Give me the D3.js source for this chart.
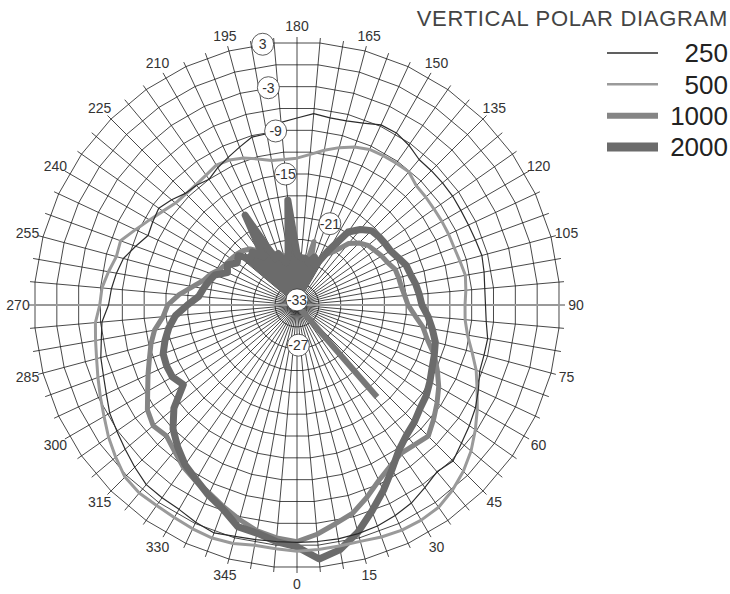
<!DOCTYPE html>
<html>
<head>
<meta charset="utf-8">
<title>Vertical polar diagram</title>
<script src="https://cdn.jsdelivr.net/npm/d3@7"></script>
<style>
  body { margin: 0; background: #fff; }
  svg text { font-family: "Liberation Sans", Arial, sans-serif; fill: #333; }
</style>
</head>
<body>
<div id="chart"></div>
<script>
// angles in degrees, 0 at the bottom, 90 to the right, 180 at the top
var angles = d3.range(0, 360, 5);

// levels in dB, one value per angle
var db250 = [-0.5,-0.5,-0.5,-0.6,-0.8,-1.2,-1.7,-2.5,-3.2,-2.8,-3.6,-4.2,-4.8,-5.6,-6.4,-6.5,-6.5,-7.0,
             -7.2,-7.2,-7.0,-6.8,-7.0,-7.1,-7.1,-7.0,-7.0,-7.0,-7.0,-6.3,-5.8,-5.8,-6.5,-6.9,-7.0,-6.7,
             -7.4,-7.9,-9.2,-9.2,-10.0,-10.7,-11.3,-12.0,-11.6,-11.4,-10.6,-9.9,-10.2,-10.5,-9.5,-8.4,-7.9,-7.5,
             -7.2,-6.2,-5.8,-5.2,-4.8,-4.2,-3.4,-2.9,-2.3,-1.6,-0.9,-0.8,-0.7,-0.2,0.2,-0.2,-0.4,-0.5];
var db500 = [0.7,0.6,0.5,0.5,0.8,1.0,1.0,0.8,0.1,-0.8,-1.9,-3.2,-4.5,-5.8,-6.9,-8.2,-9.3,-9.9,
             -10.0,-9.8,-9.6,-9.9,-10.1,-10.1,-10.1,-10.1,-10.0,-9.9,-9.2,-9.3,-9.4,-9.5,-10.0,-10.7,-11.5,-12.3,
             -12.9,-13.0,-12.9,-12.3,-11.6,-11.1,-10.9,-11.3,-11.5,-11.5,-11.3,-10.6,-9.7,-8.6,-7.3,-7.4,-6.8,-6.2,
             -6.0,-5.3,-5.0,-4.6,-4.0,-3.3,-2.5,-1.5,-0.6,0.3,0.6,0.5,0.6,0.8,0.95,0.8,0.4,0.5];
var db1000 = [-0.6,-1.5,-2.6,-3.5,-5.0,-6.5,-7.5,-8.2,-8.0,-7.6,-8.6,-9.6,-10.6,-11.8,-13.0,-14.5,-15.5,-16.8,
              -17.8,-18.2,-18.5,-18.6,-18.7,-19.3,-19.6,-20.0,-20.3,-21.0,-22.0,-24.0,-25.0,-27.0,-28.0,-24.0,-29.0,-28.0,
              -28.0,-27.0,-27.0,-26.0,-26.0,-25.0,-21.0,-24.0,-23.0,-22.5,-22.2,-22.0,-21.8,-21.4,-20.5,-19.8,-18.5,-16.8,
              -15.3,-14.6,-13.2,-12.3,-11.5,-10.5,-9.4,-8.0,-7.3,-7.7,-6.9,-5.9,-5.2,-4.6,-3.6,-2.6,-1.6,-1.0];
var db2000 = [0.1,1.9,1.0,-0.8,-3.0,-5.0,-7.0,-8.7,-9.7,-10.3,-11.0,-11.4,-12.0,-12.6,-13.0,-13.4,-14.2,-15.0,
              -15.9,-16.2,-16.5,-16.9,-17.1,-17.7,-18.2,-18.3,-18.4,-18.6,-19.5,-20.8,-24.4,-27.0,-26.0,-27.0,-26.5,-26.5,
              -26.0,-18.6,-26.0,-27.0,-25.5,-26.0,-18.8,-25.0,-23.5,-24.0,-22.5,-23.0,-22.0,-22.5,-21.0,-20.5,-20.0,-19.5,
              -18.0,-16.3,-15.2,-14.3,-13.5,-13.3,-13.3,-14.0,-11.0,-9.0,-7.6,-6.3,-5.4,-4.3,-3.3,-1.6,-1.3,-0.5];
// narrow spike of the 2000 trace, [angle, dB]
var spike2000 = [[0, -33], [41, -16.3]];
// angular range where the 2000 trace is solid down to the centre
var blob2000 = [150, 230];

var seriesNames = ['250', '500', '1000', '2000'];
var seriesColors = ['#2b2b2b', '#9a9a9a', '#858585', '#6b6b6b'];
var seriesWidths = [1.2, 3, 5, 7];
var legendWidths = [1.5, 2.5, 6, 9];

var angleTicks = d3.range(0, 360, 15);
var ringLevels = d3.range(-33, 4, 3);
var ringLabels = [3, -3, -9, -15, -21, -27, -33];
var ringLabelAngles = [187.5, 187.5, 187, 185, 158, 2, 180];
var ringLabelShift = [0, 0, 0, 0, 0, -0.5, 0.7];

var w = 730, h = 594, cx = 297, cy = 305, R = 263;

var r = d3.scaleLinear().domain([-33, 3]).range([0, R]);
// d3 radial angle: 0 at top, clockwise
var a = d3.scaleLinear().domain([0, 360]).range([Math.PI, -Math.PI]);

var svg = d3.select('#chart').append('svg')
  .attr('width', w).attr('height', h);

var g = svg.append('g').attr('transform', 'translate(' + cx + ',' + cy + ')');

function xy(deg, rad) {
  var t = a(deg);
  return [rad * Math.sin(t), -rad * Math.cos(t)];
}

// rings
var ringAngles = d3.range(5, 360, 10);
var ringLine = d3.lineRadial().curve(d3.curveLinearClosed);
g.append('g').selectAll('path')
  .data(ringLevels.slice(1))
  .enter().append('path')
  .attr('d', function(v) {
    return ringLine(ringAngles.map(function(d) { return [a(d), r(v)]; }));
  })
  .attr('fill', 'none').attr('stroke', '#1a1a1a').attr('stroke-width', 0.8);

// spokes
g.append('g').selectAll('line')
  .data(angles)
  .enter().append('line')
  .attr('x1', 0).attr('y1', 0)
  .attr('x2', function(d) { return xy(d, R + 5)[0]; })
  .attr('y2', function(d) { return xy(d, R + 5)[1]; })
  .attr('stroke', '#1a1a1a').attr('stroke-width', 0.8);

// horizontal axis
g.append('line')
  .attr('x1', xy(270, r(3))[0]).attr('y1', 0)
  .attr('x2', xy(90, r(3))[0]).attr('y2', 0)
  .attr('stroke', '#999').attr('stroke-width', 2);

// series
var allSeries = [db250, db500, db1000, db2000];
var line = d3.lineRadial()
  .angle(function(d) { return a(d[0]); })
  .radius(function(d) { return r(d[1]); })
  .curve(d3.curveLinearClosed);
var openLine = d3.lineRadial()
  .angle(function(d) { return a(d[0]); })
  .radius(function(d) { return r(d[1]); });
var area = d3.areaRadial()
  .angle(function(d) { return a(d[0]); })
  .innerRadius(0)
  .outerRadius(function(d) { return r(d[1]); });

[2, 3, 1, 0].forEach(function(i) {
  var pts = angles.map(function(d, k) { return [d, allSeries[i][k]]; });
  if (i == 3) {
    var blobPts = pts.filter(function(p) { return p[0] >= blob2000[0] && p[0] <= blob2000[1]; });
    g.append('path')
      .attr('d', area(blobPts))
      .attr('fill', seriesColors[i]);
  }
  g.append('path')
    .attr('d', line(pts))
    .attr('fill', 'none')
    .attr('stroke', seriesColors[i])
    .attr('stroke-width', seriesWidths[i])
    .attr('stroke-linejoin', 'round');
  if (i == 3) {
    g.append('path')
      .attr('d', openLine(spike2000))
      .attr('fill', 'none')
      .attr('stroke', '#777')
      .attr('stroke-width', 6);
  }
});

// angle labels
g.append('g').selectAll('text')
  .data(angleTicks)
  .enter().append('text')
  .attr('x', function(d) { return xy(d, R + 16)[0]; })
  .attr('y', function(d) { return xy(d, R + 16)[1]; })
  .attr('text-anchor', 'middle')
  .attr('dy', '0.36em')
  .style('font-size', '14px')
  .text(function(d) { return d; });

// level labels
var lab = g.append('g').selectAll('g')
  .data(ringLabels)
  .enter().append('g')
  .attr('transform', function(d, i) {
    var p = xy(ringLabelAngles[i], r(d + ringLabelShift[i]));
    return 'translate(' + p[0] + ',' + p[1] + ')';
  });
lab.append('circle').attr('r', 11)
  .attr('fill', '#fff').attr('stroke', '#333').attr('stroke-width', 0.8);
lab.append('text')
  .attr('text-anchor', 'middle').attr('dy', '0.36em')
  .style('font-size', '14px')
  .text(function(d) { return d; });

// legend
svg.append('text')
  .attr('x', 728).attr('y', 26)
  .attr('text-anchor', 'end')
  .style('font-size', '22px')
  .style('letter-spacing', '0.7px')
  .style('fill', '#444')
  .text('VERTICAL POLAR DIAGRAM');

var legY = d3.scalePoint().domain(seriesNames).range([53, 147]);
var leg = svg.append('g').selectAll('g')
  .data(seriesNames)
  .enter().append('g')
  .attr('transform', function(d) { return 'translate(0,' + legY(d) + ')'; });
leg.append('line')
  .attr('x1', 607).attr('x2', 658)
  .attr('stroke', function(d, i) { return seriesColors[i]; })
  .attr('stroke-width', function(d, i) { return legendWidths[i]; });
leg.append('text')
  .attr('x', 728).attr('dy', '0.36em')
  .attr('text-anchor', 'end')
  .style('font-size', '26px')
  .style('fill', '#222')
  .text(function(d) { return d; });
</script>
</body>
</html>
